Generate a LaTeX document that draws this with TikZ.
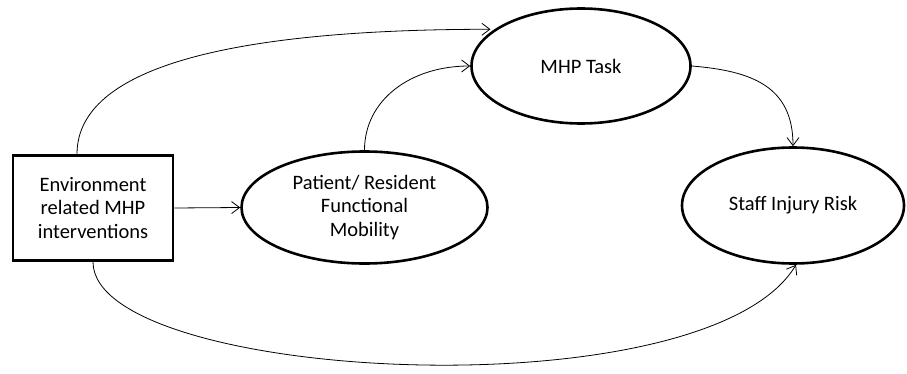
\documentclass[tikz,border=0pt]{standalone}
\usepackage{fontspec}
\setmainfont{Carlito}
\usetikzlibrary{shapes.geometric}
\usetikzlibrary{arrows.meta}

\begin{document}
\begin{tikzpicture}[x=1pt, y=1pt,
  every node/.style = {font=\fontsize{20.5}{23.5}\selectfont, align=center, inner sep=0pt},
  factor/.style = {ellipse, draw, line width=2.6pt},
  conn/.style = {line width=0.8pt, -{Straight Barb[length=8pt, width=12pt]}}]
\useasboundingbox (0,0) rectangle (907,373);
\node[draw, line width=2.8pt, minimum width=160, minimum height=105] (env) at (93,165) {Environment\\related MHP\\interventions};
\node[factor, minimum width=246, minimum height=112] (pat) at (364.5,165.5) {Patient/ Resident\\Functional\\Mobility};
\node[factor, minimum width=219, minimum height=115] (task) at (581,307) {MHP Task};
\node[factor, minimum width=222, minimum height=116] (staff) at (793,167.5) {Staff Injury Risk};
% connectors
\draw[conn] (env.east) -- (pat.west);
\draw[conn] ([xshift=-16pt]env.north) .. controls +(0,95) and +(-230,0) .. ([xshift=-4pt]task.157);
\draw[conn] (pat.north) .. controls +(0,50) and +(-60,0) .. (task.west);
\draw[conn] (task.east) .. controls +(60,-5) and +(0,60) .. (staff.north);
\draw[conn] (env.south) .. controls +(0,-120) and +(-90,-150) .. ([xshift=3pt]staff.south);
\end{tikzpicture}
\end{document}
